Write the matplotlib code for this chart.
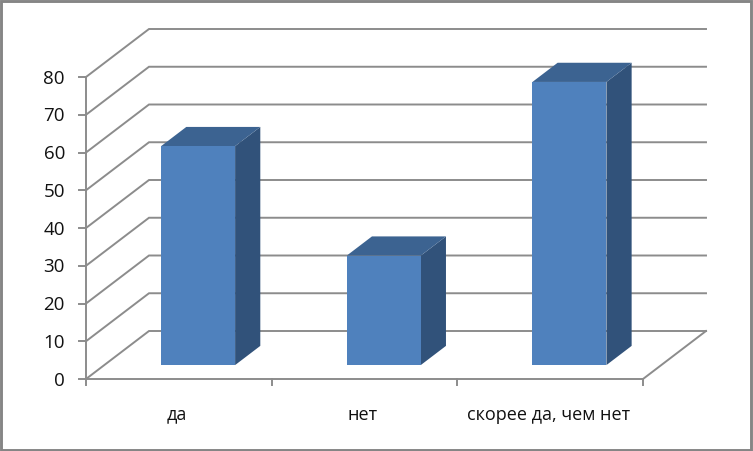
import numpy as np
import matplotlib
matplotlib.use('Agg')
import matplotlib.pyplot as plt
from matplotlib.patches import Polygon, Rectangle

categories = ['да', 'нет', 'скорее да, чем нет']
values = [58, 29, 75]
y_ticks = [0, 10, 20, 30, 40, 50, 60, 70, 80]

W, H = 753, 451
x0, y0 = 86, 379           # pixel position of the front corner
x_unit = (643 - 86) / 3    # pixels per category
y_unit = (379 - 77) / 80   # pixels per value unit
depth_x = 63 / x_unit      # shear of the floor, in data units
depth_y = 48 / y_unit
bar_width = 74 / x_unit
bar_front = 0.29           # where the bars stand on the floor
bar_back = 0.69
line_col = '#8c8c8c'
line_w = 1.4

plt.rcParams['font.family'] = ['Open Sans', 'DejaVu Sans']

fig = plt.figure(figsize=(W / 100, H / 100), dpi=100)
ax = fig.add_axes([0, 0, 1, 1])
ax.set_xlim(-x0 / x_unit, (W - x0) / x_unit)
ax.set_ylim(-(H - y0) / y_unit, y0 / y_unit)
ax.axis('off')


def sheared(x, y, d):
    return (x + d * depth_x, y + d * depth_y)


# outer frame, in figure pixels
ax.add_patch(Rectangle((1 / W, 1 / H), 750 / W, 449 / H, transform=ax.transAxes, fill=False,
                       ec='#858585', lw=2.1, clip_on=True))

# grid lines, side wall then back wall
for t in y_ticks:
    a = sheared(0, t, 0)
    b = sheared(0, t, 1)
    c = sheared(3, t, 1)
    ax.plot([a[0], b[0], c[0]], [a[1], b[1], c[1]], color=line_col, lw=line_w,
            solid_joinstyle='miter', zorder=1)
    ax.plot([a[0] - 7 / x_unit, a[0]], [t, t], color=line_col, lw=line_w, zorder=1)

# axes and floor
ax.plot([0, 0], [0, 80], color=line_col, lw=line_w, zorder=1)
ax.plot([0, 3], [0, 0], color=line_col, lw=line_w, zorder=1)
e = sheared(3, 0, 1)
ax.plot([3, e[0]], [0, e[1]], color=line_col, lw=line_w, zorder=1)
for i in range(4):
    ax.plot([i, i], [0, -6 / y_unit], color=line_col, lw=line_w, zorder=1)

# bars
for i, v in enumerate(values):
    left = i + 0.5 - bar_width / 2 + 1 / x_unit
    right = left + bar_width
    f0 = sheared(left, 0, bar_front)
    f1 = sheared(right, 0, bar_front)
    f2 = sheared(right, v, bar_front)
    f3 = sheared(left, v, bar_front)
    b1 = sheared(right, 0, bar_back)
    b2 = sheared(right, v, bar_back)
    b3 = sheared(left, v, bar_back)
    ax.add_patch(Polygon([f1, b1, b2, f2], fc='#31527a', ec='none', zorder=3))
    ax.add_patch(Polygon([f3, f2, b2, b3], fc='#3c6391', ec='none', zorder=3))
    ax.add_patch(Polygon([f0, f1, f2, f3], fc='#4f81bd', ec='none', zorder=4))
    ax.text(i + 0.5 - 2 / x_unit, -35.5 / y_unit, categories[i], ha='center', va='center',
            fontsize=13, color='#111111')

for t in y_ticks:
    ax.text(-21 / x_unit, t - 1.5 / y_unit, str(t), ha='right', va='center', fontsize=13.5,
            color='#111111')

fig.savefig('out.png', dpi=100)
